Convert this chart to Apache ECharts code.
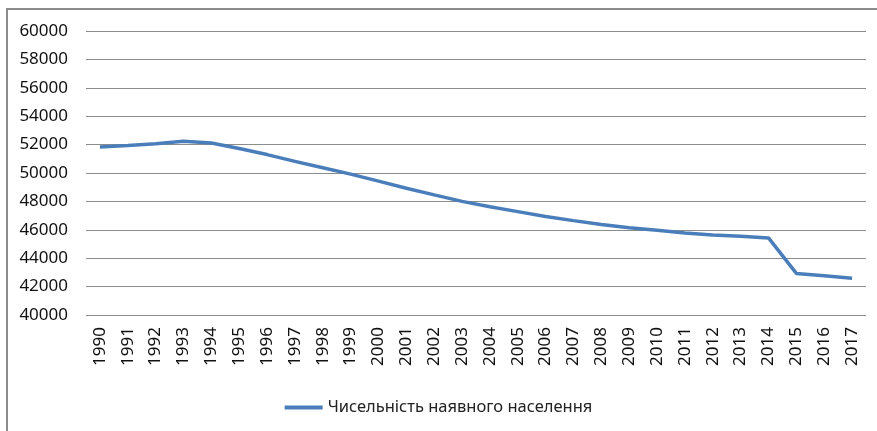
<!DOCTYPE html>
<html>
<head>
<meta charset="utf-8">
<script src="https://cdn.jsdelivr.net/npm/echarts@6/dist/echarts.min.js"></script>
<style>html,body{margin:0;padding:0;background:#fff}#c{width:877px;height:431px}</style>
</head>
<body>
<div id="c"></div>
<script>
var years = ['1990','1991','1992','1993','1994','1995','1996','1997','1998','1999','2000','2001','2002','2003','2004','2005','2006','2007','2008','2009','2010','2011','2012','2013','2014','2015','2016','2017'];
var population = [51838, 51944, 52057, 52244, 52114, 51728, 51297, 50818, 50371, 49918, 49430, 48923, 48457, 48004, 47622, 47281, 46930, 46646, 46373, 46144, 45963, 45779, 45634, 45553, 45426, 42929, 42761, 42585];
var seriesName = 'Чисельність наявного населення';

var chart = echarts.init(document.getElementById('c'));
chart.setOption({
  animation: false,
  backgroundColor: '#fff',
  textStyle: { fontFamily: 'Noto Sans' },
  graphic: [{
    type: 'rect',
    shape: { x: 7, y: 9, width: 900, height: 500 },
    style: { fill: 'none', stroke: '#8c8c8c', lineWidth: 2 },
    silent: true
  }],
  grid: { left: 86, right: 11, top: 31, bottom: 116, containLabel: false },
  legend: {
    bottom: 10,
    left: 'center',
    itemWidth: 38,
    itemHeight: 4,
    itemGap: 5,
    icon: 'rect',
    textStyle: { fontSize: 16.5, color: '#222', fontFamily: 'Noto Sans' },
    data: [seriesName]
  },
  xAxis: {
    type: 'category',
    data: years,
    boundaryGap: true,
    axisLine: { show: false },
    axisTick: { show: false },
    axisLabel: { rotate: 90, fontSize: 17, color: '#111', margin: 12, interval: 0 }
  },
  yAxis: {
    type: 'value',
    min: 40000,
    max: 60000,
    interval: 2000,
    axisLine: { show: false },
    axisTick: { show: false },
    axisLabel: { fontSize: 17, color: '#111', margin: 18, formatter: function (v) { return String(v); } },
    splitLine: { lineStyle: { color: '#8c8c8c', width: 1 } }
  },
  series: [{
    name: seriesName,
    type: 'line',
    data: population,
    showSymbol: false,
    symbol: 'none',
    lineStyle: { color: '#4a7ebb', width: 3.5 },
    itemStyle: { color: '#4a7ebb' }
  }]
});
</script>
</body>
</html>
